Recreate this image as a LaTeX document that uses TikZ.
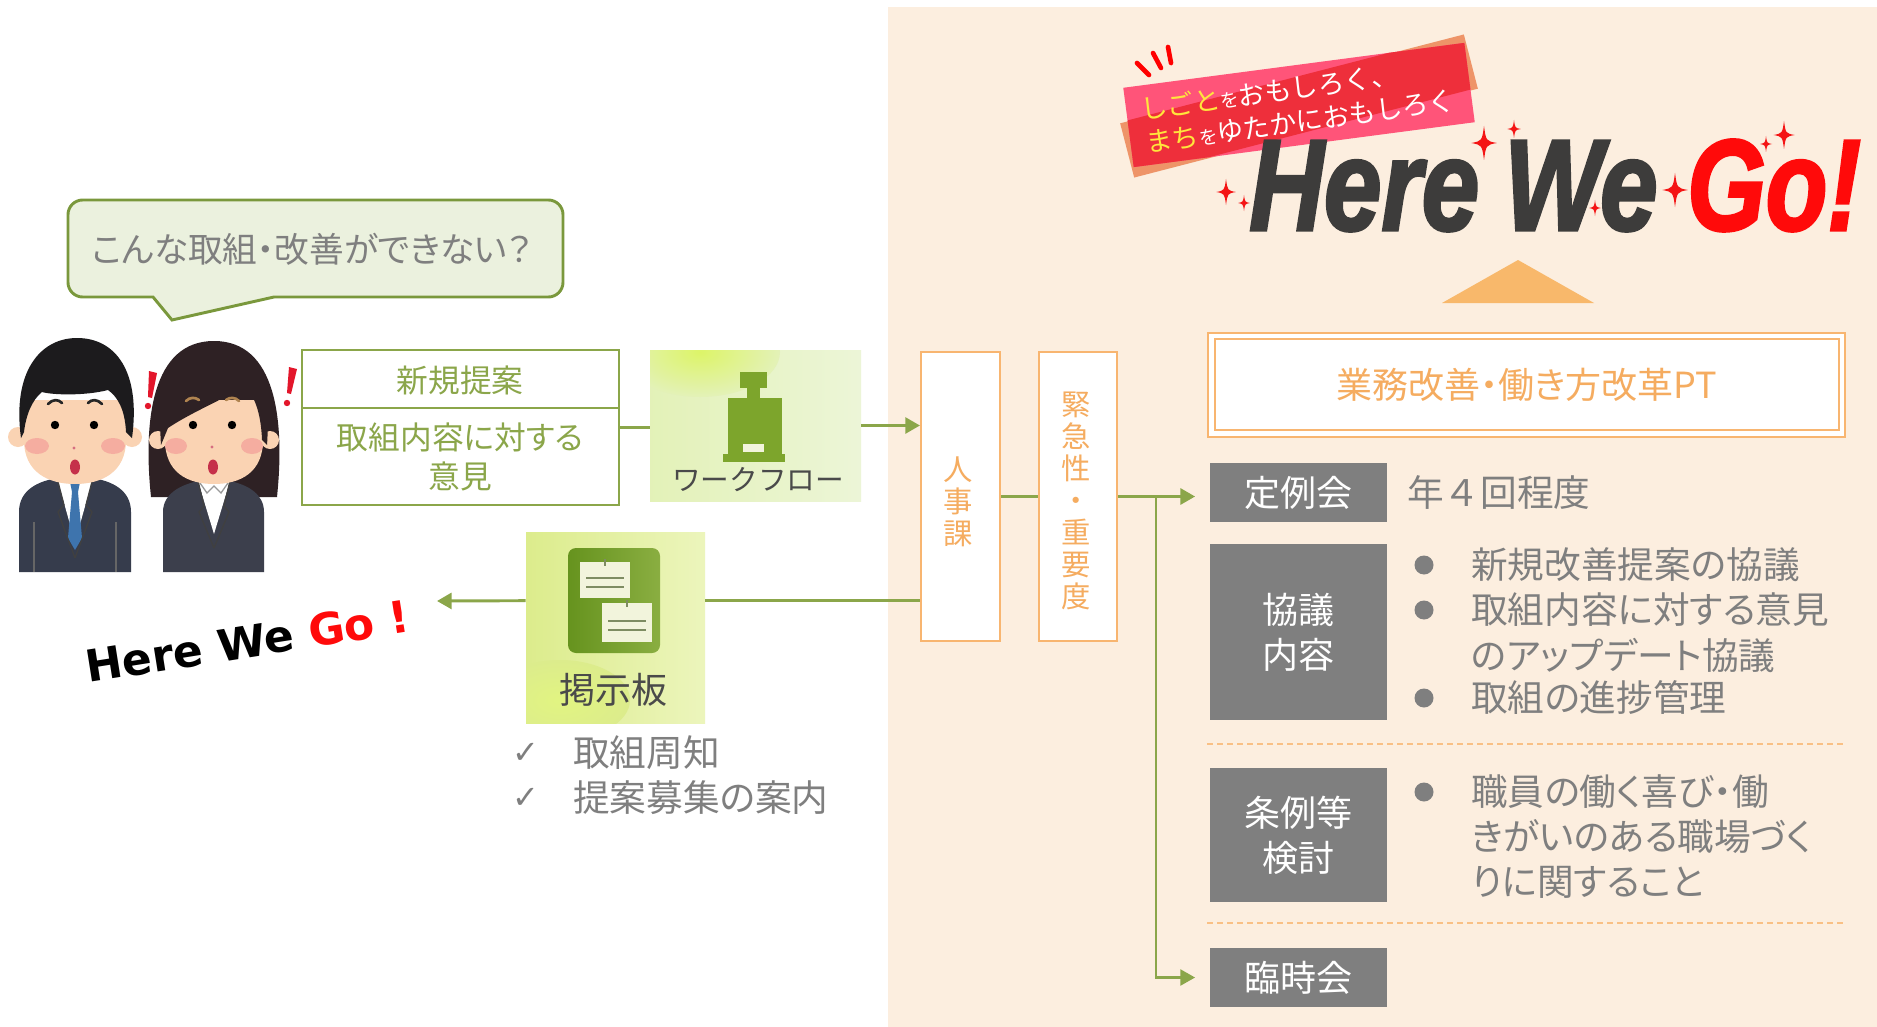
\documentclass[tikz,border=0pt]{standalone}
\usepackage{fontspec}
\usepackage{graphicx}
\setmainfont{Noto Sans CJK JP}
\newfontfamily\pfont{Noto Sans CJK JP}[RawFeature=+palt]
\newfontfamily\symfont{DejaVu Sans}
\newfontfamily\titlefont{Liberation Sans}[BoldItalicFeatures={FakeBold=2.5}]
\usetikzlibrary{arrows.meta,calc,fit}

\definecolor{peach}{HTML}{FCEEDF}
\definecolor{olive}{HTML}{8BA64A}
\definecolor{olivedark}{HTML}{7A983C}
\definecolor{bubblefill}{HTML}{EBF1DE}
\definecolor{orangeline}{HTML}{F8B570}
\definecolor{orangetext}{HTML}{F5AC60}
\definecolor{boxgray}{HTML}{7F7F7F}
\definecolor{textgray}{HTML}{7F7F7F}
\definecolor{tri}{HTML}{F8B86B}
\definecolor{sparkred}{HTML}{F41414}
\definecolor{gored}{HTML}{FF0A0A}
\definecolor{titlegray}{HTML}{3D3C3B}
\definecolor{bandorange}{HTML}{EE9468}
\definecolor{bandpink}{HTML}{FF5479}
\definecolor{bandred}{HTML}{EE2F3B}
\definecolor{bandyellow}{HTML}{FFE63C}
\definecolor{suit}{HTML}{363C4C}
\definecolor{suitw}{HTML}{3C3F4C}
\definecolor{skin}{HTML}{FAD3B3}
\definecolor{hairm}{HTML}{1C1B1D}
\definecolor{hairw}{HTML}{2E2124}
\definecolor{cheek}{HTML}{F5ADA0}
\definecolor{mouth}{HTML}{C5304A}
\definecolor{tie}{HTML}{3E74AD}
\definecolor{brow}{HTML}{B08450}
\definecolor{exclaim}{HTML}{E3162B}
\definecolor{iconbg}{HTML}{E4F1C6}
\definecolor{iconlime}{HTML}{DDF468}
\definecolor{boardbg}{HTML}{DCEC8C}
\definecolor{boardlight}{HTML}{ECF5BC}
\definecolor{icongreen}{HTML}{7DA52C}
\definecolor{icondeep}{HTML}{66931E}
\definecolor{icontext}{HTML}{4A4A4A}
\definecolor{paper}{HTML}{F2F4DC}
\definecolor{paperline}{HTML}{7E8C62}

\tikzset{
  flow/.style={draw=olive, line width=2.2pt},
  flowtip/.style={-{Triangle[length=11pt,width=12pt]}},
  outline/.style={draw=olive, line width=1.5pt},
  ideatext/.style={text=olive, align=center, font=\pfont\fontsize{23.8}{29.3}\selectfont},
  orangebox/.style={draw=orangeline, line width=1.6pt, fill=white, inner sep=0pt},
  vtext/.style={text=orangetext, align=center, font=\fontsize{22}{24}\selectfont},
  graybox/.style={fill=boxgray, inner sep=0pt},
  graylabel/.style={text=white, align=center, font=\fontsize{27}{33.75}\selectfont},
  itemtext/.style={anchor=west, inner sep=0pt, text=textgray,
    font=\pfont\fontsize{27.5}{27.5}\selectfont},
  checkmark/.style={text=textgray, font=\symfont\fontsize{24}{24}\selectfont},
  sepline/.style={draw=orangeline!85, line width=1.5pt, dash pattern=on 4.5pt off 3pt},
  bandtext/.style={anchor=base west, inner sep=0pt, text=white, rotate=8,
    font=\fontsize{20}{20}\selectfont},
  bigword/.style={anchor=base west, inner sep=0pt,
    font=\titlefont\bfseries\itshape\fontsize{97}{97}\selectfont},
  sparkle/.pic={\fill[sparkred, scale=#1] (0,-1) .. controls (0.12,-0.12) .. (0.75,0)
    .. controls (0.12,0.12) .. (0,1) .. controls (-0.12,0.12) .. (-0.75,0)
    .. controls (-0.12,-0.12) .. cycle;},
}

\begin{document}
\begin{tikzpicture}[x=0.75pt, y=-0.75pt]
\useasboundingbox (0,0) rectangle (1877,1027);
\fill[white] (0,0) rectangle (1877,1027);
% project panel
\fill[peach] (888,7) rectangle (1877,1027);

% ---------- speech bubble ----------
\draw[draw=olivedark, fill=bubblefill, line width=2.2pt]
  (153,297) [rounded corners=11pt] -- (68,297) -- (68,200) -- (563,200) -- (563,297)
  -- (420,297) [sharp corners] -- (274,297) -- (172,320) -- cycle;
\node[text=textgray, font=\pfont\fontsize{26}{26}\selectfont] (ask) at (312,249) {こんな取組・改善ができない？};

% ---------- two staff members ----------
% man
\fill[suit] (19,572) -- (19,512) .. controls (19,490) and (38,481) .. (58,478) -- (92,478)
  .. controls (112,481) and (131,490) .. (131,512) -- (131,572) -- cycle;
\fill[white] (57,478) -- (93,478) -- (75,542) -- cycle;
\fill[tie] (70,482) -- (80,482) -- (78,492) -- (72,492) -- cycle;
\fill[tie] (72,492) -- (78,492) -- (82,538) -- (75,550) -- (68,538) -- cycle;
\draw[black!75, line width=1pt] (57,478) -- (64,505) -- (58,512) -- (75,558);
\draw[black!75, line width=1pt] (93,478) -- (86,505) -- (92,512) -- (75,558);
\draw[black!60, line width=0.8pt] (34,522) -- (34,572) (116,522) -- (116,572);
\fill[skin] (18,437) circle (10) (132,437) circle (10);
\fill[skin] (24,400) -- (24,440) .. controls (24,472) and (48,484) .. (75,484)
  .. controls (102,484) and (126,472) .. (126,440) -- (126,400) -- cycle;
\fill[hairm] (21,438) .. controls (12,372) and (40,338) .. (77,338)
  .. controls (116,338) and (141,372) .. (132,438) -- (126,432)
  .. controls (125,410) and (118,397) .. (108,390) .. controls (85,396) and (52,395) .. (42,392)
  .. controls (32,400) and (26,415) .. (24,432) -- cycle;
\fill[cheek] (37,446) ellipse (12 and 8) (113,446) ellipse (12 and 8);
\draw[black!85, line width=2pt, line cap=round] (48,404) .. controls (53,399) and (58,399) .. (62,403)
  (88,403) .. controls (92,399) and (97,399) .. (102,404);
\fill[black] (55,425) circle (4.2) (94,425) circle (4.2);
\fill[mouth!70] (74,448) circle (1.6);
\fill[mouth] (75,467) ellipse (5 and 7.5);
% woman
\fill[hairw] (151,497) .. controls (143,420) and (152,341) .. (214,341)
  .. controls (276,341) and (285,420) .. (277,497) -- cycle;
\fill[suitw] (163,572) -- (163,512) .. controls (163,494) and (180,485) .. (198,481) -- (230,481)
  .. controls (248,485) and (264,494) .. (264,512) -- (264,572) -- cycle;
\fill[white] (198,481) -- (230,481) -- (214,534) -- cycle;
\draw[black!40, line width=1pt] (200,483) -- (207,493) -- (214,486) -- (221,493) -- (228,483);
\draw[black!75, line width=1pt] (198,481) -- (204,506) -- (199,512) -- (214,548);
\draw[black!75, line width=1pt] (230,481) -- (224,506) -- (229,512) -- (214,548);
\fill[skin] (158,440) circle (9) (270,440) circle (9);
\fill[skin] (165,400) -- (165,440) .. controls (165,472) and (187,484) .. (214,484)
  .. controls (241,484) and (263,472) .. (263,440) -- (263,400) -- cycle;
\fill[hairw] (161,445) .. controls (156,378) and (182,350) .. (214,350)
  .. controls (250,350) and (272,378) .. (267,445) -- (262,440)
  .. controls (261,412) and (254,395) .. (244,385) .. controls (228,398) and (195,410) .. (168,428) -- cycle;
\fill[cheek] (176,446) ellipse (11 and 8) (252,446) ellipse (11 and 8);
\draw[brow, line width=2pt, line cap=round] (186,401) .. controls (190,397) and (195,397) .. (199,400)
  (226,400) .. controls (230,397) and (235,397) .. (239,401);
\fill[black] (193,425) circle (4.2) (232,425) circle (4.2);
\fill[mouth!70] (212,447) circle (1.6);
\fill[mouth] (213,467) ellipse (5 and 7.5);
% surprise marks
\fill[exclaim] (149,371) -- (157,373) -- (152,398) -- (148,397) -- cycle;
\fill[exclaim] (148,406) circle (3.2);
\fill[exclaim] (289,367) -- (297,369) -- (291,394) -- (287,393) -- cycle;
\fill[exclaim] (287,403) circle (3.2);

% ---------- proposal box ----------
\node[fit={(302,350) (619,505)}, outline, inner sep=0pt] (idea) {};
\draw[outline] (302,408) -- (619,408);
\node[ideatext] (ideanew) at (460,381) {新規提案};
\node[ideatext] (ideaopinion) at (460,457) {取組内容に対する\\意見};

% ---------- workflow tile ----------
\begin{scope}
  \clip (650,350) rectangle (861,501);
  \shade[left color=iconbg!85!iconlime, right color=iconbg!70!white] (650,350) rectangle (861,501);
  \shade[inner color=iconlime, outer color=iconbg!85!iconlime] (700,352) ellipse (80 and 45);
\end{scope}
\node[fit={(650,350) (861,501)}, inner sep=0pt] (wf) {};
\fill[icongreen] (740,372) rectangle (767,388);
\fill[icongreen] (747,386) rectangle (760,400);
\fill[icongreen] (728,398) rectangle (782,456);
\fill[icongreen] (723,454) rectangle (785,462);
\fill[paper] (743,444) rectangle (764,452);
\node[text=icontext, font=\fontsize{21.5}{21.5}\selectfont] (wflabel) at (758,480) {ワークフロー};

% ---------- notice board tile ----------
\begin{scope}
  \clip (526,532) rectangle (705,723);
  \shade[left color=boardbg, right color=boardlight] (526,532) rectangle (705,723);
  \shade[inner color=iconlime!70!boardlight, outer color=boardbg] (560,700) ellipse (70 and 40);
\end{scope}
\node[fit={(526,532) (705,723)}, inner sep=0pt] (keiji) {};
\shade[left color=icondeep, right color=icongreen!90!white, rounded corners=6pt] (568,548) rectangle (660,653);
\fill[paper] (580,562) rectangle (630,598);
\fill[paper] (602,603) rectangle (652,642);
\draw[paperline, line width=1.4pt] (586,578) -- (624,578) (586,587) -- (624,587)
  (608,621) -- (646,621) (608,630) -- (646,630);
\draw[paperline, line width=1.6pt] (605,559) -- (605,566) (627,600) -- (627,607);
\node[text=icontext, font=\fontsize{27}{27}\selectfont] (keijilabel) at (613,690) {掲示板};
\coordinate (keijiR) at ($(keiji.north east)!0.36!(keiji.south east)$);
\coordinate (keijiL) at ($(keiji.north west)!0.36!(keiji.south west)$);
\coordinate (hwgtip) at (437,601);

% notes under the board
\node[checkmark] (chk1) at (526,753) {✓};
\node[checkmark] (chk2) at (526,798) {✓};
\node[itemtext] (note1) at (573,753) {取組周知};
\node[itemtext] (note2) at (573,798) {提案募集の案内};

% small slogan
\node[anchor=base west, inner sep=0pt, rotate=9,
  font=\symfont\bfseries\fontsize{33}{33}\selectfont] (slogan) at (88,683)
  {Here We \textcolor{gored}{Go !}};

% ---------- personnel section and filter ----------
\node[orangebox, fit={(921,352) (1000,641)}] (jinji) {};
\node[vtext] (jinjilabel) at (958,502) {人\\事\\課};
\node[orangebox, fit={(1039,352) (1117,641)}] (kinkyu) {};
\node[vtext] (kinkyulabel) at (1076,501) {緊\\急\\性\\・\\重\\要\\度};

% ---------- project team ----------
\node[fit={(1208,333) (1845,437)}, draw=orangeline, line width=2.2pt, fill=white, inner sep=0pt] (pt) {};
\draw[orangeline, line width=1.6pt] (1215,339) rectangle (1839,430);
\node[text=orangetext, font=\pfont\fontsize{27}{27}\selectfont] (ptlabel) at (pt.center) {業務改善・働き方改革PT};

\node[graybox, fit={(1210,463) (1387,522)}] (teirei) {};
\node[graylabel] (teireilabel) at (teirei.center) {定例会};
\node[itemtext, font=\fontsize{27.5}{27.5}\selectfont] (freq) at (1407,493) {年４回程度};

\node[graybox, fit={(1210,544) (1387,720)}] (kyogi) {};
\node[graylabel] (kyogilabel) at (kyogi.center) {協議\\内容};
\fill[boxgray] (1424,565) circle (9.5) (1424,610) circle (9.5) (1424,698) circle (9.5);
\node[itemtext] (k1) at (1471,565) {新規改善提案の協議};
\node[itemtext] (k2) at (1471,610) {取組内容に対する意見};
\node[itemtext] (k3) at (1471,655) {のアップデート協議};
\node[itemtext] (k4) at (1471,698) {取組の進捗管理};

\draw[sepline] (1207,744) -- (1844,744);

\node[graybox, fit={(1210,768) (1387,902)}] (jorei) {};
\node[graylabel] (joreilabel) at (jorei.center) {条例等\\検討};
\fill[boxgray] (1424,792) circle (9.5);
\node[itemtext] (j1) at (1471,792) {職員の働く喜び・働};
\node[itemtext] (j2) at (1471,837) {きがいのある職場づく};
\node[itemtext] (j3) at (1471,882) {りに関すること};

\draw[sepline] (1207,923) -- (1844,923);

\node[graybox, fit={(1210,948) (1387,1007)}] (rinji) {};
\node[graylabel] (rinjilabel) at (rinji.center) {臨時会};

% ---------- connectors ----------
\draw[flow] (idea.east) -- (idea.east -| wf.west);
\draw[flow, flowtip] (wf.east) -- (wf.east -| jinji.west);
\draw[flow] (jinji.east) -- (kinkyu.west);
\coordinate (branch) at ($(kinkyu.east)+(38,0)$);
\draw[flow, flowtip, shorten >=11pt] (kinkyu.east) -- (kinkyu.east -| teirei.west);
\draw[flow, line width=1.6pt, flowtip, shorten >=11pt] (branch) |- (rinji.west);
\draw[flow] (jinji.west |- keijiR) -- (keijiR);
\draw[flow, flowtip] (keijiL) -- (hwgtip);

% ---------- slogan banner ----------
\draw[red, line width=3.5pt, line cap=round] (1137,63) -- (1149,75) (1153,53) -- (1161,68) (1168,47) -- (1171,63);
\begin{scope}[shift={(1299,106)}, rotate=14.5]
  \fill[bandorange] (-177.5,-28) rectangle (177.5,28);
\end{scope}
\begin{scope}[shift={(1299,105)}, rotate=7.5]
  \fill[bandpink] (-172,-40) rectangle (172,40);
  \clip (-172,-40) rectangle (172,40);
  \begin{scope}[rotate=7]
    \fill[bandred] (-180,-28) rectangle (180,28);
  \end{scope}
\end{scope}
\node[bandtext] (band1) at (1142,120)
  {\textcolor{bandyellow}{しごと}{\fontsize{14}{14}\selectfont を}おもしろく、};
\node[bandtext] (band2) at (1147,153)
  {\textcolor{bandyellow}{まち}{\fontsize{14}{14}\selectfont を}ゆたかにおもしろく};

% ---------- title ----------
\node[bigword, text=titlegray] (here) at (1249,230) {\scalebox{0.8}[1]{Here}};
\node[bigword, text=titlegray] (we) at (1504,230) {\scalebox{0.8}[1]{We}};
\node[bigword, text=gored] (go) at (1687,230) {\scalebox{0.78}[1]{Go!}};
\pic at (1484,143) {sparkle=17};
\pic at (1514,129) {sparkle=9};
\pic at (1226,192) {sparkle=13};
\pic at (1244,203) {sparkle=8};
\pic at (1675,190) {sparkle=17};
\pic at (1595,208) {sparkle=8};
\pic at (1784,135) {sparkle=14};
\pic at (1766,144) {sparkle=8};

% pointer toward the slogan
\fill[tri] (1442,303) -- (1518,260) -- (1594,303) -- cycle;
\end{tikzpicture}
\end{document}
